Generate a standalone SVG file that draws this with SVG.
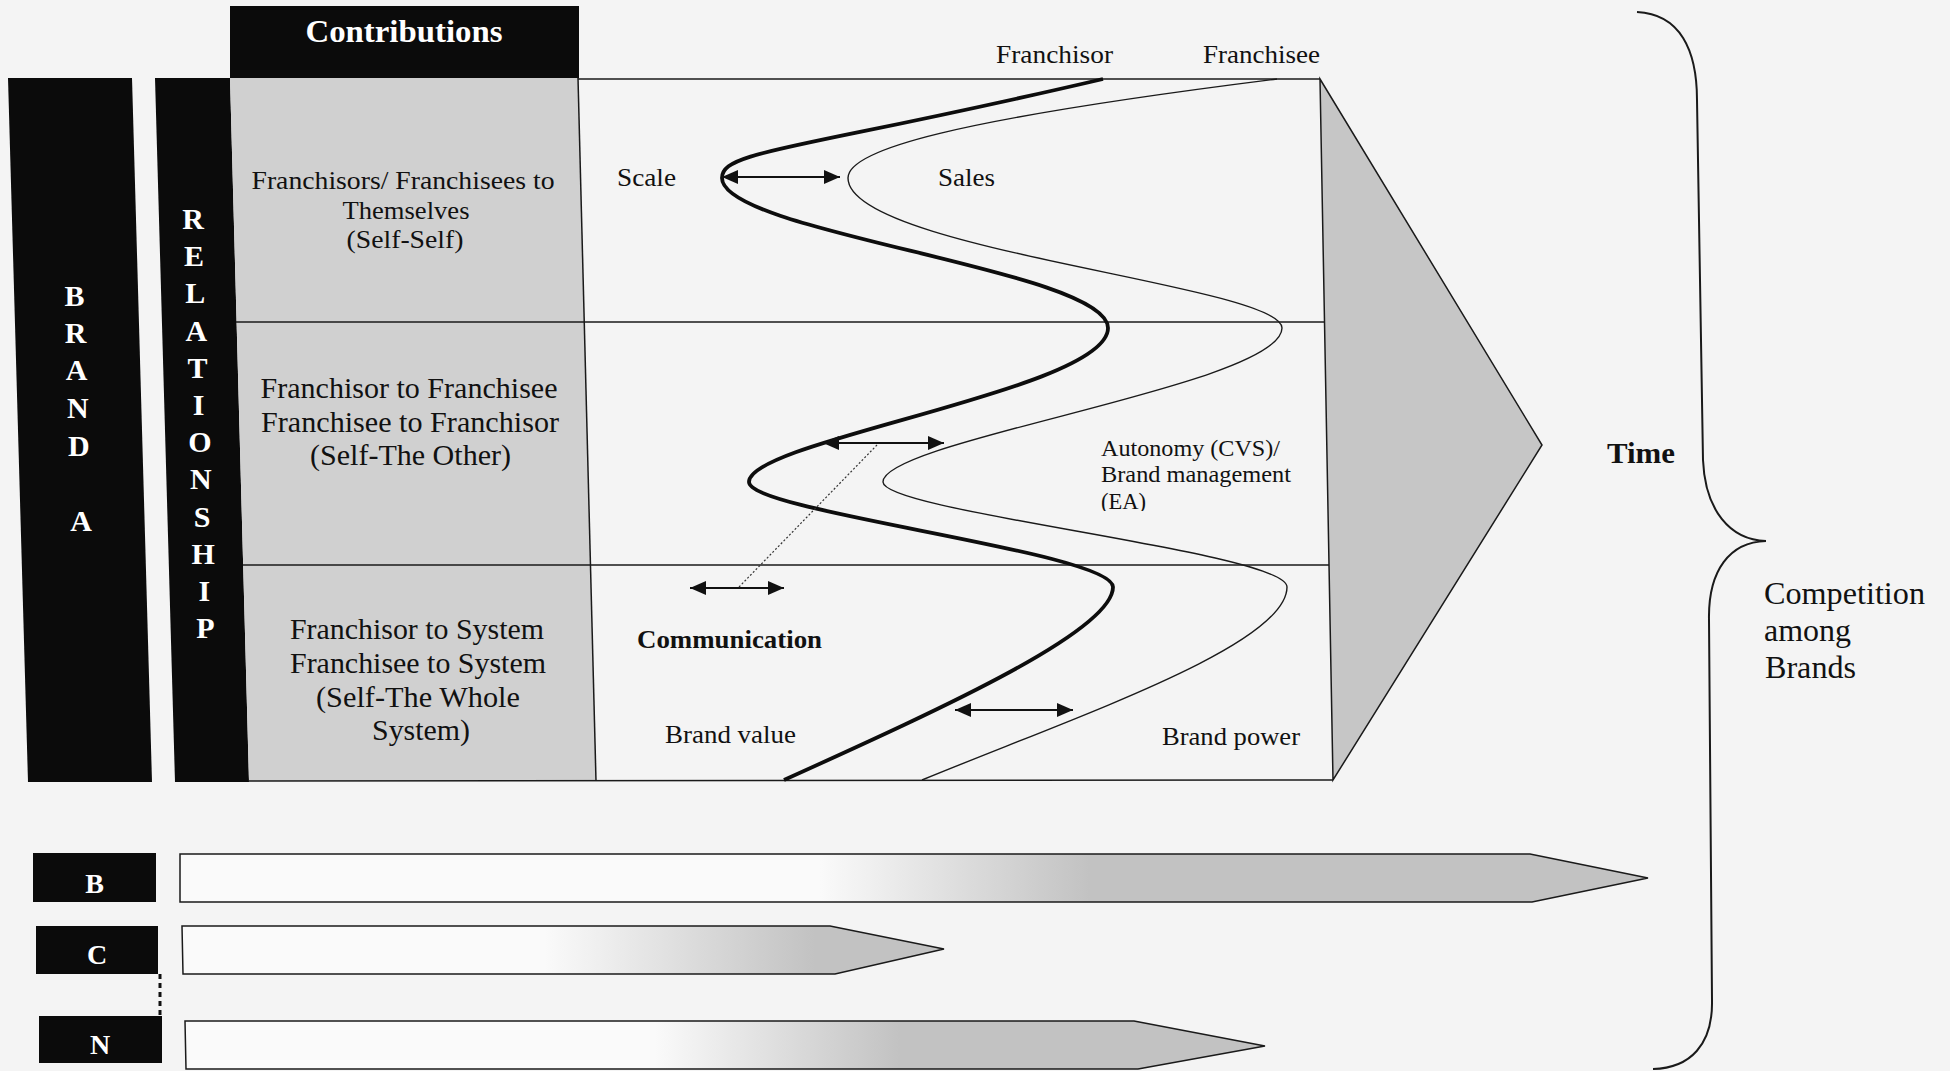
<svg xmlns="http://www.w3.org/2000/svg" width="1950" height="1071" viewBox="0 0 1950 1071">
  <defs>
    <style>
      .serif { font-family: "Liberation Serif", "Times New Roman", serif; }
      .b { font-weight: bold; }
      .wt { fill: #ffffff; }
      .bk { fill: #111111; }
      .blk { fill: #0b0b0b; }
      .edge { fill: none; stroke: #1a1a1a; stroke-width: 1.5; }
      .mid { text-anchor: middle; }
      .arrow { stroke: #111; stroke-width: 2; marker-start: url(#ah); marker-end: url(#ah); }
      .thick { fill: none; stroke: #0d0d0d; stroke-width: 3.8; }
      .thin { fill: none; stroke: #1a1a1a; stroke-width: 1.4; }
      .bar { stroke: #1a1a1a; stroke-width: 1.5; }
    </style>
    <marker id="ah" viewBox="0 0 16 14" refX="16" refY="7" markerWidth="16" markerHeight="14" markerUnits="userSpaceOnUse" orient="auto-start-reverse">
      <path d="M0,0 L16,7 L0,14 Z" fill="#111"/>
    </marker>
    <linearGradient id="gB" gradientUnits="userSpaceOnUse" x1="820" y1="0" x2="1090" y2="0">
      <stop offset="0" stop-color="#fafafa"/>
      <stop offset="1" stop-color="#c2c2c2"/>
    </linearGradient>
    <linearGradient id="gC" gradientUnits="userSpaceOnUse" x1="545" y1="0" x2="815" y2="0">
      <stop offset="0" stop-color="#fafafa"/>
      <stop offset="1" stop-color="#c2c2c2"/>
    </linearGradient>
    <linearGradient id="gN" gradientUnits="userSpaceOnUse" x1="655" y1="0" x2="900" y2="0">
      <stop offset="0" stop-color="#fafafa"/>
      <stop offset="1" stop-color="#c2c2c2"/>
    </linearGradient>
    <clipPath id="eaClip">
      <rect x="1090" y="420" width="220" height="91"/>
    </clipPath>
  </defs>

  <!-- page -->
  <rect x="0" y="0" width="1950" height="1071" fill="#f4f4f4"/>

  <!-- header over the contributions column -->
  <g id="contributions">
    <rect x="230" y="6" width="349" height="72" class="blk"/>
    <text x="404" y="42" class="serif b wt mid" font-size="31" textLength="197" lengthAdjust="spacingAndGlyphs">Contributions</text>
  </g>

  <!-- Brand A column -->
  <g id="brandA">
    <polygon points="8,78 132,78 152,782 28,782" class="blk"/>
    <g class="serif b wt mid" font-size="30">
      <text x="74.6" y="306">B</text>
      <text x="75.7" y="343">R</text>
      <text x="76.7" y="380">A</text>
      <text x="77.8" y="418">N</text>
      <text x="78.9" y="456">D</text>
      <text x="81" y="531">A</text>
    </g>
  </g>

  <!-- Relationship column -->
  <g id="relationship">
    <polygon points="155,78 230,78 249,782 175,782" class="blk"/>
    <g class="serif b wt mid" font-size="30">
      <text x="193" y="229">R</text>
      <text x="194.1" y="266">E</text>
      <text x="195.2" y="303">L</text>
      <text x="196.4" y="341">A</text>
      <text x="197.5" y="378">T</text>
      <text x="198.7" y="415">I</text>
      <text x="199.8" y="452">O</text>
      <text x="200.9" y="489">N</text>
      <text x="202.1" y="527">S</text>
      <text x="203.2" y="564">H</text>
      <text x="204.4" y="601">I</text>
      <text x="205.5" y="638">P</text>
    </g>
  </g>

  <!-- relationship levels (grey column) -->
  <g id="levels">
    <polygon points="230,78 578,78 596,781 249,781" fill="#d0d0d0"/>
  </g>

  <!-- time arrow behind the matrix -->
  <g id="time">
    <polygon points="1320,79 1542,445 1333,780" fill="#c6c6c6" stroke="#1a1a1a" stroke-width="1.5"/>
    <text x="1641" y="463" class="serif b bk mid" font-size="30" textLength="68" lengthAdjust="spacingAndGlyphs">Time</text>
  </g>

  <!-- matrix frame and row separators -->
  <g id="matrix">
    <line x1="578" y1="79" x2="1320" y2="79" class="edge"/>
    <line x1="249" y1="781" x2="1333" y2="780" class="edge"/>
    <line x1="578" y1="78" x2="596" y2="781" class="edge"/>
    <line x1="236" y1="322" x2="1324" y2="322" class="edge"/>
    <line x1="243" y1="565" x2="1329" y2="565" class="edge"/>
  </g>

  <g id="row1">
    <g class="serif bk mid" font-size="26">
      <text x="403" y="189" textLength="303" lengthAdjust="spacingAndGlyphs">Franchisors/ Franchisees to</text>
      <text x="406" y="219" textLength="127" lengthAdjust="spacingAndGlyphs">Themselves</text>
      <text x="405" y="248" textLength="117" lengthAdjust="spacingAndGlyphs">(Self-Self)</text>
    </g>
  </g>

  <g id="row2">
    <g class="serif bk mid" font-size="29">
      <text x="409" y="398" textLength="297" lengthAdjust="spacingAndGlyphs">Franchisor to Franchisee</text>
      <text x="410" y="432" textLength="298" lengthAdjust="spacingAndGlyphs">Franchisee to Franchisor</text>
      <text x="410.5" y="465" textLength="201" lengthAdjust="spacingAndGlyphs">(Self-The Other)</text>
    </g>
  </g>

  <g id="row3">
    <g class="serif bk mid" font-size="29">
      <text x="417" y="639" textLength="254" lengthAdjust="spacingAndGlyphs">Franchisor to System</text>
      <text x="418" y="673" textLength="256" lengthAdjust="spacingAndGlyphs">Franchisee to System</text>
      <text x="418" y="707" textLength="204" lengthAdjust="spacingAndGlyphs">(Self-The Whole</text>
      <text x="421" y="740" textLength="98" lengthAdjust="spacingAndGlyphs">System)</text>
    </g>
  </g>

  <!-- franchisor (thick) and franchisee (thin) paths -->
  <g id="paths">
    <path class="thick" d="M1103,79 C800,150 722,150 722,178 C722,233 1108,270 1108,328 C1108,390 749,440 749,482 C749,512 1113,552 1113,587 C1113,630 950,705 784,780"/>
    <path class="thin" d="M1277,79 C950,120 848,150 848,178 C848,250 1282,285 1282,328 C1282,385 883,440 883,482 C883,512 1287,552 1287,587 C1287,645 1080,715 922,780"/>
    <g class="serif bk" font-size="26">
      <text x="996" y="63" textLength="117" lengthAdjust="spacingAndGlyphs">Franchisor</text>
      <text x="1203" y="63" textLength="117" lengthAdjust="spacingAndGlyphs">Franchisee</text>
    </g>
  </g>

  <!-- dimension labels inside the matrix -->
  <g id="dimensions">
    <g class="serif bk" font-size="26">
      <text x="617" y="186" textLength="59" lengthAdjust="spacingAndGlyphs">Scale</text>
      <text x="938" y="186" textLength="57" lengthAdjust="spacingAndGlyphs">Sales</text>
      <text x="665" y="743" textLength="131" lengthAdjust="spacingAndGlyphs">Brand value</text>
      <text x="1162" y="745" textLength="138" lengthAdjust="spacingAndGlyphs">Brand power</text>
    </g>
    <text x="637" y="648" class="serif b bk" font-size="26" textLength="185" lengthAdjust="spacingAndGlyphs">Communication</text>
    <g class="serif bk" font-size="24" clip-path="url(#eaClip)">
      <text x="1101" y="456" textLength="179" lengthAdjust="spacingAndGlyphs">Autonomy (CVS)/</text>
      <text x="1101" y="482" textLength="190" lengthAdjust="spacingAndGlyphs">Brand management</text>
      <text x="1101" y="509" textLength="45" lengthAdjust="spacingAndGlyphs">(EA)</text>
    </g>
  </g>

  <!-- double-headed gaps between the two paths -->
  <g id="connectors">
    <line x1="722" y1="177" x2="840" y2="177" class="arrow"/>
    <line x1="823" y1="443" x2="944" y2="443" class="arrow"/>
    <line x1="690" y1="588" x2="784" y2="588" class="arrow"/>
    <line x1="955" y1="710" x2="1073" y2="710" class="arrow"/>
    <line x1="877" y1="445" x2="739" y2="587" stroke="#333" stroke-width="1.2" stroke-dasharray="2 2"/>
    <line x1="160" y1="974" x2="160" y2="1016" stroke="#111" stroke-width="3" stroke-dasharray="5 4"/>
  </g>

  <!-- other brands -->
  <g id="brandB">
    <rect x="33" y="853" width="123" height="49" class="blk"/>
    <text x="94.5" y="893" class="serif b wt mid" font-size="28">B</text>
    <polygon points="180,854 1530,854 1648,878 1532,902 180,902" fill="url(#gB)" class="bar"/>
  </g>
  <g id="brandC">
    <rect x="36" y="926" width="122" height="48" class="blk"/>
    <text x="97" y="964" class="serif b wt mid" font-size="28">C</text>
    <polygon points="182,926 830,926 944,949 835,974 183,974" fill="url(#gC)" class="bar"/>
  </g>
  <g id="brandN">
    <rect x="39" y="1016" width="123" height="47" class="blk"/>
    <text x="100" y="1054" class="serif b wt mid" font-size="28">N</text>
    <polygon points="185,1021 1134,1021 1265,1046 1138,1069 186,1069" fill="url(#gN)" class="bar"/>
  </g>

  <!-- competition brace -->
  <g id="competition">
    <path d="M1637,12 C1680,14 1697,50 1697,100 L1703,460 C1705,510 1730,540 1766,541 C1730,542 1708,570 1709,620 L1712,1000 C1713,1045 1690,1068 1653,1069" fill="none" stroke="#1a1a1a" stroke-width="2"/>
    <g class="serif bk" font-size="32">
      <text x="1764" y="604" textLength="161" lengthAdjust="spacingAndGlyphs">Competition</text>
      <text x="1764" y="641" textLength="87" lengthAdjust="spacingAndGlyphs">among</text>
      <text x="1765" y="678" textLength="91" lengthAdjust="spacingAndGlyphs">Brands</text>
    </g>
  </g>
</svg>
